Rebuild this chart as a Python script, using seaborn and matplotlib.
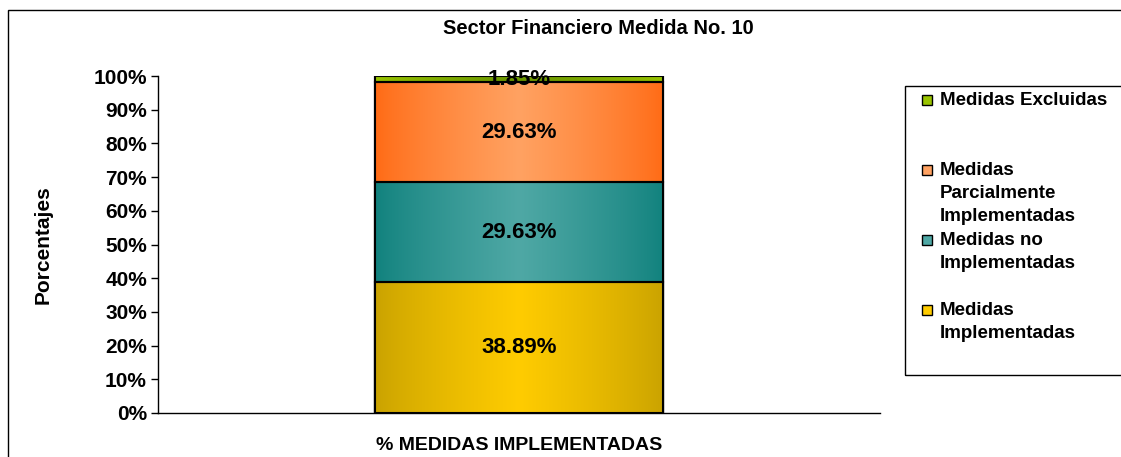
import numpy as np
import pandas as pd
import matplotlib
matplotlib.use("Agg")
import matplotlib.pyplot as plt
from matplotlib.colors import to_rgb
from matplotlib.patches import Rectangle
import seaborn as sns

# ---- data ----
category = "% MEDIDAS IMPLEMENTADAS"
series = ["Medidas Implementadas", "Medidas no Implementadas",
          "Medidas Parcialmente Implementadas", "Medidas Excluidas"]
legend_labels = ["Medidas\nImplementadas", "Medidas no\nImplementadas",
                 "Medidas\nParcialmente\nImplementadas", "Medidas Excluidas"]
values = [38.89, 29.63, 29.63, 1.85]
value_labels = ["38.89%", "29.63%", "29.63%", "1.85%"]
yticks = [0, 10, 20, 30, 40, 50, 60, 70, 80, 90, 100]
title = "Sector Financiero Medida No. 10"
ylabel = "Porcentajes"

edge_cols = ["#C9A200", "#10817D", "#FF6A14", "#99C400"]
center_cols = ["#FFCC00", "#4FA8A5", "#FFA262", "#6A9600"]

sns.set_theme(style="white")
plt.rcParams['font.family'] = ['Liberation Sans', 'DejaVu Sans']
plt.rcParams.update({"text.color": "black", "axes.labelcolor": "black",
                     "xtick.color": "black", "ytick.color": "black"})

fig = plt.figure(figsize=(11.21, 4.57), dpi=100)
ax = fig.add_axes([158/1121, 1-413/457, (880-158)/1121, (413-76)/457])

df = pd.DataFrame({"cat": [category]*len(series), "serie": series,
                   "val": values})
df["top"] = df["val"].cumsum()
df["bottom"] = df["top"] - df["val"]

# draw cumulative bars from the top series down (seaborn stacking)
for i in reversed(range(len(series))):
    sns.barplot(data=df.iloc[[i]], x="cat", y="top", ax=ax, width=0.4,
                color=center_cols[i], edgecolor="black", linewidth=1.5,
                errorbar=None, zorder=2)

# gradient fill for each segment
grad_x = np.linspace(0, 1, 256)
profile = np.clip(1 - np.abs(grad_x - 0.5) * 2, 0, 1) ** 0.8
for i in range(len(series)):
    e = np.array(to_rgb(edge_cols[i]))
    c = np.array(to_rgb(center_cols[i]))
    img = e[None, :] + (c - e)[None, :] * profile[:, None]
    img = img[None, :, :]
    x0, x1 = -0.2, 0.2
    y0, y1 = df["bottom"][i], df["top"][i]
    rect = Rectangle((x0, y0), x1 - x0, y1 - y0, facecolor="none",
                     edgecolor="black", linewidth=1.5, zorder=4)
    im = ax.imshow(img, extent=[x0, x1, y0, y1], aspect="auto", zorder=3,
                   interpolation="bilinear")
    ax.add_patch(rect)
    im.set_clip_path(rect)

for i in range(len(series)):
    ax.text(0, (df["bottom"][i] + df["top"][i]) / 2, value_labels[i],
            ha="center", va="center", fontsize=16, fontweight="bold",
            color="black", zorder=6)

ax.set_xlim(-0.5, 0.5)
ax.set_ylim(0, 100)
ax.set_yticks(yticks)
ax.set_yticklabels([f"{t}%" for t in yticks], fontsize=15, fontweight="bold")
ax.set_xticks([0])
ax.set_xticklabels([category], fontsize=14, fontweight="bold")
ax.set_xticks([-0.5, 0.5], minor=True)
ax.tick_params(axis="x", which="major", length=0, pad=17)
ax.tick_params(axis="x", which="minor", length=6, width=1, direction="out",
               color="black")
ax.tick_params(axis="y", length=5, width=1, direction="out", color="black",
               left=True, pad=3)
ax.set_xlabel("")
ax.set_ylabel(ylabel, fontsize=15, fontweight="bold", labelpad=29)
for s in ["top", "right"]:
    ax.spines[s].set_visible(False)
for s in ["left", "bottom"]:
    ax.spines[s].set_color("black")
    ax.spines[s].set_linewidth(1)
ax.grid(False)

# title
fig.text(598/1121, 1-28/457, title, ha="center", va="center",
         fontsize=14.5, fontweight="bold")

# outer frame
fig.patches.append(Rectangle((8/1121, -0.1), 1.2, 1-10/457+0.1,
                             transform=fig.transFigure, facecolor="none",
                             edgecolor="black", linewidth=1, clip_on=False))

# legend box (manual)
fig.patches.append(Rectangle((905/1121, 1-375/457), 0.3, (375-86)/457,
                             transform=fig.transFigure, facecolor="none",
                             edgecolor="black", linewidth=1, clip_on=False))
entry_y = [310, 240, 170, 100]
for i in range(len(series)):
    yy = 1 - entry_y[i]/457
    fig.patches.append(Rectangle((922/1121, yy - 5/457), 10/1121, 10/457,
                                 transform=fig.transFigure,
                                 facecolor=center_cols[i] if i < 3 else edge_cols[i],
                                 edgecolor="black", linewidth=1))
    fig.text(940/1121, yy + 8/457, legend_labels[i], ha="left", va="top",
             fontsize=13.5, fontweight="bold", linespacing=1.45)

fig.savefig("out.png", dpi=100)
